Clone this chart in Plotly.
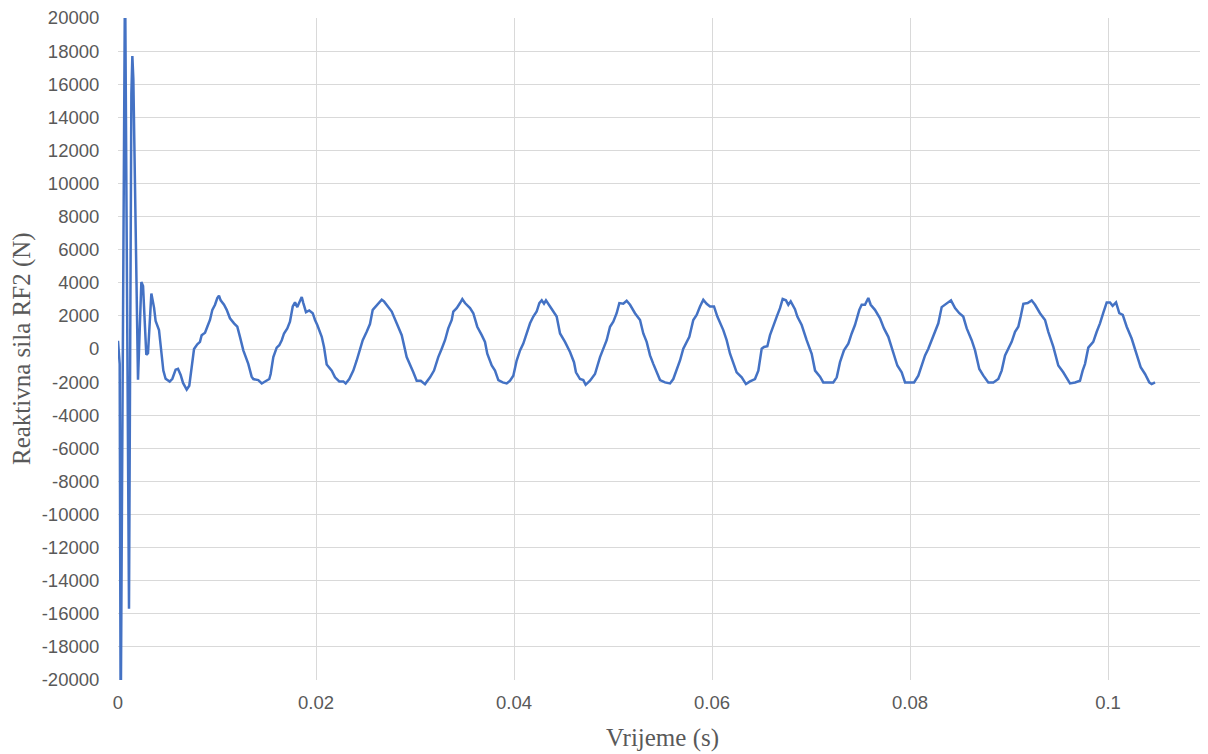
import plotly.graph_objects as go

# Time (s) and reaction force RF2 (N)
time_s = [
    0.0, 0.00017, 0.00027, 0.00071, 0.00111, 0.00135, 0.00145, 0.00155, 0.00202, 0.00236,
    0.00253, 0.00286, 0.00303, 0.00337, 0.00364, 0.0038, 0.00414, 0.00448, 0.00458, 0.00481,
    0.00522, 0.00549, 0.00582, 0.00606, 0.00633, 0.00657, 0.00694, 0.0072, 0.00744, 0.00768,
    0.00801, 0.00828, 0.00845, 0.00879, 0.00902, 0.00929, 0.00953, 0.0098, 0.01003, 0.0102,
    0.01037, 0.01071, 0.01098, 0.01131, 0.01172, 0.01205, 0.01232, 0.01266, 0.01316, 0.0135,
    0.01367, 0.01417, 0.01452, 0.01495, 0.01528, 0.01542, 0.01569, 0.01603, 0.01629, 0.01654,
    0.01677, 0.0171, 0.01737, 0.01765, 0.01788, 0.01811, 0.01838, 0.01856, 0.01872, 0.01899,
    0.01932, 0.01967, 0.0199, 0.02013, 0.02058, 0.02081, 0.02108, 0.02159, 0.02192, 0.02235,
    0.02276, 0.023, 0.02336, 0.02377, 0.02411, 0.02444, 0.02472, 0.02512, 0.02545, 0.02573,
    0.02613, 0.02664, 0.02687, 0.02714, 0.02765, 0.02815, 0.02866, 0.02916, 0.02949, 0.02983,
    0.03017, 0.03058, 0.03101, 0.03152, 0.03192, 0.03235, 0.0327, 0.03303, 0.03336, 0.03371,
    0.03387, 0.03421, 0.03455, 0.03478, 0.03505, 0.03556, 0.03589, 0.03629, 0.03674, 0.03707,
    0.0373, 0.03775, 0.03808, 0.03842, 0.03886, 0.03926, 0.0396, 0.03993, 0.04027, 0.04061,
    0.04094, 0.04128, 0.04162, 0.04195, 0.04229, 0.04256, 0.0428, 0.04303, 0.04323, 0.04364,
    0.04397, 0.04431, 0.04465, 0.04515, 0.04566, 0.04606, 0.04626, 0.04667, 0.047, 0.04724,
    0.04768, 0.04818, 0.04869, 0.04902, 0.04936, 0.0497, 0.05003, 0.05037, 0.05064, 0.05104,
    0.05138, 0.05172, 0.05222, 0.05273, 0.05306, 0.0534, 0.05374, 0.05407, 0.05434, 0.05475,
    0.05525, 0.05576, 0.05609, 0.05643, 0.05677, 0.0571, 0.05737, 0.05771, 0.05811, 0.05845,
    0.05879, 0.05912, 0.05946, 0.0598, 0.0602, 0.06054, 0.06114, 0.06148, 0.06182, 0.06222,
    0.06249, 0.063, 0.06343, 0.06384, 0.06434, 0.06468, 0.06502, 0.06525, 0.06559, 0.06586,
    0.06619, 0.06654, 0.06687, 0.06714, 0.06747, 0.06771, 0.06795, 0.06838, 0.06862, 0.06906,
    0.06956, 0.07007, 0.07041, 0.07091, 0.07124, 0.07175, 0.07225, 0.0726, 0.07293, 0.07333,
    0.07377, 0.07411, 0.07444, 0.07488, 0.07512, 0.07545, 0.07579, 0.07603, 0.07646, 0.07697,
    0.07737, 0.07781, 0.07831, 0.07872, 0.07916, 0.0795, 0.08, 0.08041, 0.08084, 0.08118,
    0.08152, 0.08185, 0.08219, 0.08253, 0.08286, 0.0832, 0.08364, 0.08414, 0.08455, 0.08498,
    0.08538, 0.08573, 0.08623, 0.08657, 0.087, 0.08741, 0.08791, 0.08842, 0.08892, 0.08926,
    0.0896, 0.08993, 0.09027, 0.09061, 0.09094, 0.09118, 0.09145, 0.09189, 0.09229, 0.09263,
    0.09313, 0.09364, 0.09397, 0.09448, 0.09498, 0.09548, 0.09583, 0.09616, 0.09667, 0.09717,
    0.09744, 0.09768, 0.09801, 0.09851, 0.09886, 0.09919, 0.09953, 0.09987, 0.1002, 0.10047,
    0.10081, 0.10114, 0.10149, 0.10189, 0.10239, 0.10283, 0.1033, 0.10374, 0.10417, 0.10441,
    0.10475,
]

force_n = [
    500, -900, -23000, 23000, -15700, 15400, 17700, 16300, -1850, 4050,
    3800, -350, -250, 3350, 2500, 1700, 1150, -500, -1300, -1800,
    -1970, -1800, -1250, -1200, -1570, -2050, -2450, -2220, -1100, 0,
    285, 430, 837, 980, 1347, 1755, 2367, 2673, 3082, 3224,
    2939, 2673, 2367, 1857, 1551, 1347, 735, -82, -898, -1673,
    -1816, -1878, -2082, -1918, -1816, -1510, -490, 82, 224, 531,
    939, 1245, 1653, 2571, 2816, 2531, 2878, 3143, 2776, 2224,
    2327, 2163, 1755, 1449, 735, 122, -939, -1306, -1714, -1959,
    -1959, -2082, -1816, -1306, -694, -82, 531, 1041, 1510, 2367,
    2612, 2980, 2878, 2673, 2265, 1551, 837, -490, -1000, -1408,
    -1918, -1918, -2122, -1714, -1306, -490, 20, 531, 1245, 1755,
    2265, 2469, 2776, 3020, 2776, 2469, 2163, 1347, 837, 429,
    -286, -1000, -1306, -1878, -2020, -2082, -1918, -1612, -694, -82,
    327, 939, 1551, 1959, 2265, 2776, 2939, 2735, 2939, 2571,
    2265, 1959, 939, 429, -184, -796, -1408, -1816, -1878, -2163,
    -1918, -1510, -490, 20, 531, 1347, 1653, 2163, 2776, 2735,
    2918, 2673, 2163, 1755, 939, 429, -388, -898, -1306, -1878,
    -2020, -2082, -1816, -1306, -694, 20, 367, 735, 1755, 2061,
    2571, 2980, 2735, 2571, 2571, 1959, 1143, 531, -286, -898,
    -1408, -1714, -2122, -1959, -1816, -1306, 20, 122, 163, 837,
    1449, 1959, 2469, 3020, 2939, 2673, 2878, 2408, 1959, 1449,
    531, -286, -1306, -1673, -2020, -2020, -2020, -1714, -796, -82,
    327, 939, 1449, 2367, 2673, 2673, 3082, 2673, 2367, 1857,
    1245, 735, -286, -1000, -1408, -2020, -2020, -2020, -1612, -1000,
    -388, 20, 531, 1041, 1551, 2531, 2735, 2939, 2469, 2163,
    1959, 1245, 531, -82, -1204, -1612, -2020, -2020, -1816, -1306,
    -388, 20, 429, 1041, 1347, 1959, 2735, 2776, 2939, 2673,
    2163, 1755, 1041, 122, -1000, -1408, -1714, -2082, -2020, -1918,
    -1306, -898, 82, 429, 1041, 1551, 2204, 2816, 2816, 2612,
    2816, 2163, 2061, 1347, 633, -286, -1102, -1510, -2020, -2122,
    -2020,
]

x_tick_vals = [0, 0.02, 0.04, 0.06, 0.08, 0.1]
x_tick_text = ["0", "0.02", "0.04", "0.06", "0.08", "0.1"]
y_tick_vals = list(range(-20000, 20001, 2000))
y_tick_text = [str(v) for v in y_tick_vals]

x_title = "Vrijeme (s)"
y_title = "Reaktivna sila RF2 (N)"

fig = go.Figure()
fig.add_trace(go.Scatter(
    x=time_s, y=force_n, mode="lines",
    line=dict(color="#4472C4", width=2.5),
    showlegend=False,
))

tick_font = dict(family="Liberation Sans, Arial, sans-serif", size=18.5, color="#595959")
title_font = dict(family="Liberation Serif, Times New Roman, serif", size=25, color="#595959")

fig.update_layout(
    width=1200, height=746,
    margin=dict(l=110, r=1, t=10, b=74, autoexpand=False),
    paper_bgcolor="white", plot_bgcolor="white",
    xaxis=dict(
        range=[0, 0.11], tickvals=x_tick_vals, ticktext=x_tick_text,
        showgrid=True, gridcolor="#d9d9d9", gridwidth=1,
        zeroline=False, showline=False, automargin=False,
        ticks="outside", ticklen=6, tickcolor="rgba(0,0,0,0)",
        tickfont=tick_font, ticklabeloverflow="allow",
    ),
    yaxis=dict(
        range=[-20000, 20000], tickvals=y_tick_vals, ticktext=y_tick_text,
        showgrid=True, gridcolor="#d9d9d9", gridwidth=1,
        zeroline=False, showline=False, automargin=False,
        ticks="outside", ticklen=14, tickcolor="rgba(0,0,0,0)",
        tickfont=tick_font, ticklabeloverflow="allow",
    ),
    annotations=[
        dict(text=x_title, xref="paper", yref="paper", x=0.5, y=0,
             xanchor="center", yanchor="middle", yshift=-58,
             showarrow=False, font=title_font),
        dict(text=y_title, xref="paper", yref="paper", x=0, y=0.5,
             xanchor="center", yanchor="middle", xshift=-96, textangle=-90,
             showarrow=False, font=title_font),
    ],
)

fig.write_html("out.html")
